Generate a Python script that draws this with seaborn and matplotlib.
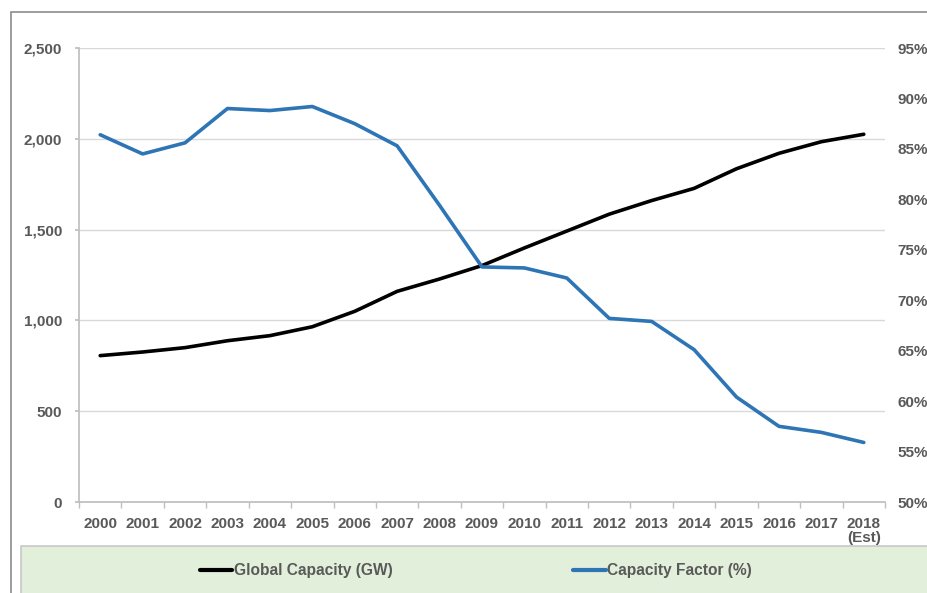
import numpy as np
import pandas as pd
import seaborn as sns
import matplotlib
matplotlib.use("Agg")
import matplotlib.pyplot as plt
import matplotlib.lines as mlines
from matplotlib.patches import Rectangle
from matplotlib.ticker import FuncFormatter, MultipleLocator

years=["2000","2001","2002","2003","2004","2005","2006","2007","2008","2009",
	"2010","2011","2012","2013","2014","2015","2016","2017","2018\n(Est)"]
global_capacity=[806,826,850,888,916,965,1050,1160,1228,1302,
	1399,1492,1585,1660,1727,1835,1920,1984,2025]
capacity_factor=[86.4,84.5,85.6,89.0,88.8,89.2,87.5,85.3,79.4,73.3,
	73.2,72.2,68.2,67.9,65.1,60.4,57.5,56.9,55.9]

text_color="#595959"
grid_color="#d9d9d9"
blue="#2e75b6"
fontsize=11

df=pd.DataFrame({
	"pos": np.arange(len(years)),
	"capacity": global_capacity,
	"factor": capacity_factor,
})

sns.set_theme(style="white", rc={"figure.figsize": (9.28, 5.93), "figure.dpi": 100})
plt.rcParams["font.family"]=["Liberation Sans", "DejaVu Sans"]
plt.rcParams["font.weight"]="bold"

fig=plt.figure()
ax=fig.add_axes([79/928, 1-502/593, (885-79)/928, (502-48)/593])
ax2=ax.twinx()

sns.lineplot(data=df, x="pos", y="capacity", ax=ax, color="black", linewidth=2.6, zorder=5)
sns.lineplot(data=df, x="pos", y="factor", ax=ax2, color=blue, linewidth=2.6, zorder=6)

ax.set_xlim(-0.5, len(years)-0.5)
ax.set_ylim(0, 2500)
ax2.set_ylim(50, 95)
ax.yaxis.set_major_locator(MultipleLocator(500))
ax2.yaxis.set_major_locator(MultipleLocator(5))
ax.yaxis.set_major_formatter(FuncFormatter(lambda v, p: f"{int(v):,}"))
ax2.yaxis.set_major_formatter(FuncFormatter(lambda v, p: f"{int(v)}%"))

ax.set_xticks(df["pos"])
ax.set_xticklabels(years, linespacing=1.0)
ax.set_xticks(np.arange(-0.5, len(years), 1), minor=True)
ax.tick_params(axis="x", which="major", length=0, pad=11, labelsize=fontsize, labelcolor=text_color)
ax.tick_params(axis="x", which="minor", direction="out", length=4, color="#bfbfbf", bottom=True)
ax.tick_params(axis="y", length=3, color="#bfbfbf", left=True, pad=9, labelsize=fontsize, labelcolor=text_color)
ax2.tick_params(axis="y", length=0, pad=9, labelsize=fontsize, labelcolor=text_color)

ax.grid(axis="y", color=grid_color, linewidth=1)
ax.set_axisbelow(True)
ax.set_xlabel("")
ax.set_ylabel("")
ax2.set_ylabel("")
for name, spine in ax.spines.items():
	spine.set_visible(name in ("left", "bottom"))
	spine.set_color("#bfbfbf")
for spine in ax2.spines.values():
	spine.set_visible(False)

# outer frame and legend band
fig.patches.append(Rectangle((11/928, -0.1), 1.2, 1-12/593+0.1, transform=fig.transFigure,
	fill=False, edgecolor="#8c8c8c", linewidth=1.2, zorder=0))
fig.patches.append(Rectangle((21/928, -0.1), 1.2, 1-546/593+0.1, transform=fig.transFigure,
	facecolor="#e2efda", edgecolor="#c8c8c8", linewidth=1.2, zorder=1))

handles=[
	mlines.Line2D([], [], color="black", linewidth=3),
	mlines.Line2D([], [], color=blue, linewidth=3),
]
leg=fig.legend(handles=handles, labels=["Global Capacity (GW)", "Capacity Factor (%)"],
	loc="center", bbox_to_anchor=(476/928, 1-571/593), ncol=2, frameon=False,
	handlelength=2.1, handletextpad=0.1, columnspacing=11.6, fontsize=11.2)
for t in leg.get_texts():
	t.set_color(text_color)

fig.savefig("out.png", dpi=100)
